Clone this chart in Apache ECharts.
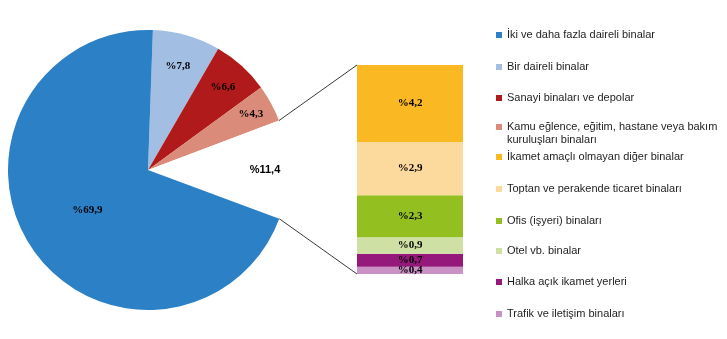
<!DOCTYPE html>
<html>
<head>
<meta charset="utf-8">
<script src="https://cdn.jsdelivr.net/npm/echarts@6/dist/echarts.min.js"></script>
<style>
html,body{margin:0;padding:0;background:#fff;}
#c{width:727px;height:339px;}
</style>
</head>
<body>
<div id="c"></div>
<script>
// ---- data ----
const pieCategories = ['İki ve daha fazla daireli binalar', 'Bir daireli binalar', 'Sanayi binaları ve depolar', 'Kamu eğlence, eğitim, hastane veya bakım kuruluşları binaları'];
const pieValues = [69.9, 7.8, 6.6, 4.3];
const otherName = 'Diğer';
const otherValue = 11.4;
const barCategories = ['İkamet amaçlı olmayan diğer binalar', 'Toptan ve perakende ticaret binaları', 'Ofis (işyeri) binaları', 'Otel vb. binalar', 'Halka açık ikamet yerleri', 'Trafik ve iletişim binaları'];
const barValues = [4.2, 2.9, 2.3, 0.9, 0.7, 0.4];

// ---- styles ----
const pieColors = ['#2C80C5', '#A3BEE3', '#B01A1A', '#DA8B79'];
const barColors = ['#FAB823', '#FCD99D', '#93C020', '#CEE0A3', '#95187B', '#C991C4'];
const fmt = v => '%' + v.toFixed(1).replace('.', ',');
const serifLabel = {color: '#000', fontFamily: 'Liberation Serif', fontWeight: 'bold', fontSize: 11};

const chart = echarts.init(document.getElementById('c'), null, {renderer: 'canvas'});

// pie order clockwise from top: Bir, Sanayi, Kamu, other, İki
const pieOrder = [1, 2, 3, -1, 0];
const pieData = pieOrder.map(i => i < 0
  ? {name: otherName, value: otherValue, itemStyle: {color: '#fff'}}
  : {name: pieCategories[i], value: pieValues[i], itemStyle: {color: pieColors[i]}});

const series = [{
  type: 'pie', name: 'main', center: [148, 170], radius: [0, 140],
  startAngle: 88, clockwise: true, silent: true, animation: false,
  label: Object.assign({position: 'inside', formatter: p => fmt(p.value)}, serifLabel),
  labelLine: {show: false},
  data: pieData.map((d, k) => Object.assign({}, d, {label: {show: pieOrder[k] === 0}}))
}];

// transparent label rings (label distance from centre per slice)
const labelInner = {1: 70, 2: 78, 3: 88, '-1': 88};
[70, 78, 88].forEach((r0, j) => {
  series.push({
    type: 'pie', name: 'labels' + j, center: [148, 170], radius: [r0, 140],
    startAngle: 88, clockwise: true, silent: true, animation: false,
    label: Object.assign({position: 'inside', formatter: p => fmt(p.value)}, serifLabel),
    labelLine: {show: false},
    data: pieData.map((d, k) => {
      const idx = pieOrder[k];
      const show = idx !== 0 && labelInner[idx] === r0;
      const lab = {show: show};
      if (idx < 0) lab.fontFamily = 'Liberation Sans';
      return {name: d.name + ' ', value: d.value, itemStyle: {color: 'rgba(0,0,0,0)'}, label: lab};
    })
  });
});

// stacked bar from bottom
for (let i = barCategories.length - 1; i >= 0; i--) {
  series.push({
    type: 'bar', name: barCategories[i], stack: 'other', barWidth: 106,
    animation: false, silent: true,
    itemStyle: {color: barColors[i]},
    label: Object.assign({show: true, position: 'inside', formatter: p => fmt(p.value)}, serifLabel),
    data: [barValues[i]]
  });
}

const legendNames = pieCategories.concat(barCategories);
const legendColors = pieColors.concat(barColors);
const legendCenters = [35, 67, 98, 127, 157, 189, 221, 251, 282, 314];
const legends = legendNames.map((n, i) => {
  const wrap = i === 3;
  return {
    orient: 'vertical', left: 496, top: legendCenters[i] - (wrap ? 19.5 : 6), padding: 0,
    itemWidth: 6, itemHeight: 6, icon: 'rect', selectedMode: false,
    formatter: wrap ? '\nKamu eğlence, eğitim, hastane veya bakım\nkuruluşları binaları' : '{name}',
    textStyle: {color: '#1e1e1e', fontFamily: 'Liberation Sans', fontSize: 11, lineHeight: wrap ? 13 : 12},
    data: [{name: n, itemStyle: {color: legendColors[i]}}]
  };
});

chart.setOption({
  animation: false,
  grid: {left: 357, top: 65, width: 106, height: 209},
  xAxis: {type: 'category', data: [otherName], show: false},
  yAxis: {type: 'value', min: 0, max: otherValue, show: false},
  legend: legends,
  series: series
});

// connector lines from the pie gap to the bar
function drawConnectors() {
  const data = chart.getModel().getSeriesByIndex(0).getData();
  const k = pieOrder.indexOf(-1);
  const lay = data.getItemLayout(k);
  const p1 = [lay.cx + lay.r * Math.cos(lay.startAngle), lay.cy + lay.r * Math.sin(lay.startAngle)];
  const p2 = [lay.cx + lay.r * Math.cos(lay.endAngle), lay.cy + lay.r * Math.sin(lay.endAngle)];
  const top = chart.convertToPixel({xAxisIndex: 0, yAxisIndex: 0}, [0, otherValue]);
  const bot = chart.convertToPixel({xAxisIndex: 0, yAxisIndex: 0}, [0, 0]);
  const half = 106 / 2;
  chart.setOption({
    graphic: [
      {type: 'line', silent: true, shape: {x1: p1[0], y1: p1[1], x2: top[0] - half, y2: top[1]}, style: {stroke: '#3a3a3a', lineWidth: 1}},
      {type: 'line', silent: true, shape: {x1: p2[0], y1: p2[1], x2: bot[0] - half, y2: bot[1]}, style: {stroke: '#3a3a3a', lineWidth: 1}}
    ]
  });
}
drawConnectors();
</script>
</body>
</html>
